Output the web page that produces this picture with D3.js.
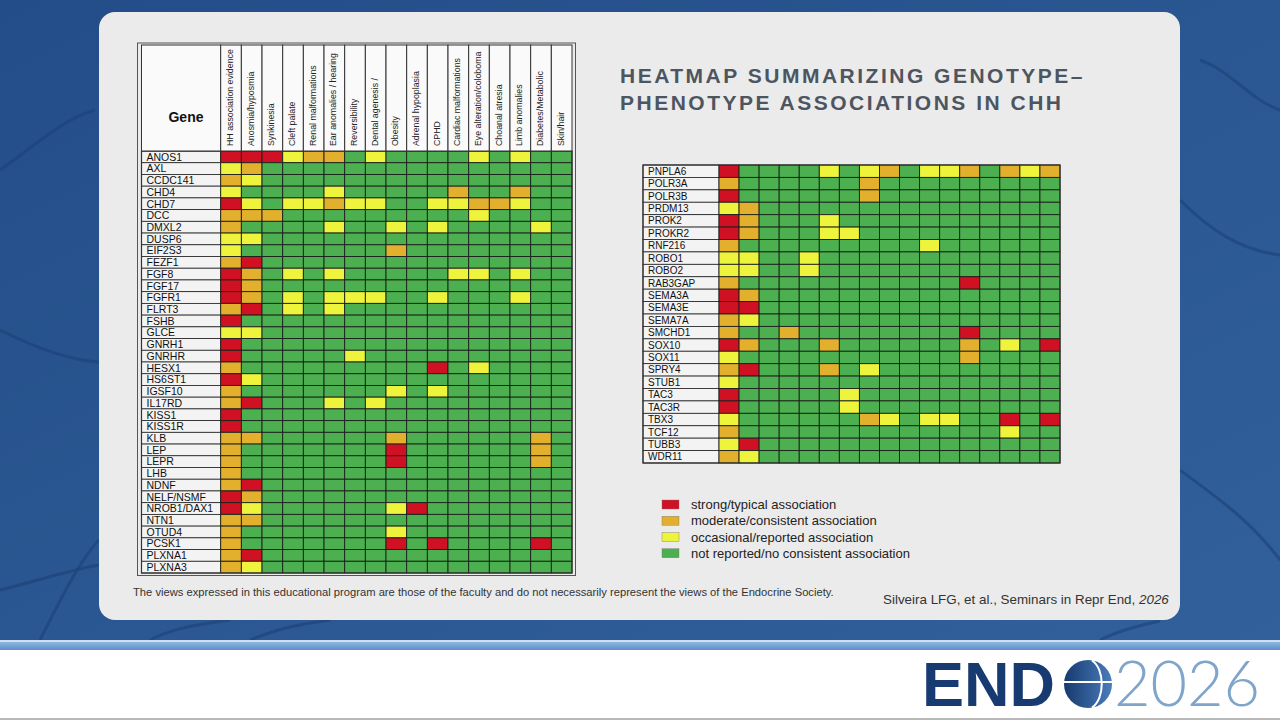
<!DOCTYPE html>
<html>
<head>
<meta charset="utf-8">
<script src="https://cdn.jsdelivr.net/npm/d3@7"></script>
<style>
  body { margin: 0; background: #fff; }
  svg { display: block; font-family: Arial, "Liberation Sans", sans-serif; }
</style>
</head>
<body>
<div id="chart"></div>
<script>
// phenotype columns (same for both tables)
var phenotypes = ["HH association evidence", "Anosmia/hyposmia", "Synkinesia", "Cleft palate",
    "Renal malformations", "Ear anomalies / hearing", "Reversibility", "Dental agenesis /",
    "Obesity", "Adrenal hypoplasia", "CPHD", "Cardiac malformations", "Eye alteration/coloboma",
    "Choanal atresia", "Limb anomalies", "Diabetes/Metabolic", "Skin/hair"];

// 0 = not reported, 1 = occasional, 2 = moderate, 3 = strong
var leftGenes = ["ANOS1", "AXL", "CCDC141", "CHD4", "CHD7", "DCC", "DMXL2", "DUSP6", "EIF2S3",
    "FEZF1", "FGF8", "FGF17", "FGFR1", "FLRT3", "FSHB", "GLCE", "GNRH1", "GNRHR", "HESX1",
    "HS6ST1", "IGSF10", "IL17RD", "KISS1", "KISS1R", "KLB", "LEP", "LEPR", "LHB", "NDNF",
    "NELF/NSMF", "NROB1/DAX1", "NTN1", "OTUD4", "PCSK1", "PLXNA1", "PLXNA3"];
var leftLevels = [
    "33312201000010100", "12000000000000000", "21000000000000000", "10000100000200200",
    "31011211001122100", "22200000000010000", "20000100101000010", "11000000000000000",
    "10000000200000000", "23000000000000000", "32010100000110100", "32000000000000000",
    "32010111001000100", "23010100000000000", "30000000000000000", "11000000000000000",
    "30000000000000000", "30000010000000000", "20000000003010000", "31000000000000000",
    "20000000101000000", "23000101000000000", "30000000000000000", "30000000000000000",
    "22000000200000020", "20000000300000020", "20000000300000020", "20000000000000000",
    "23000000000000000", "32000000000000000", "31000000130000000", "22000000000000000",
    "20000000100000000", "20000000303000030", "23000000000000000", "21000000000000000"];

var rightGenes = ["PNPLA6", "POLR3A", "POLR3B", "PRDM13", "PROK2", "PROKR2", "RNF216", "ROBO1",
    "ROBO2", "RAB3GAP", "SEMA3A", "SEMA3E", "SEMA7A", "SMCHD1", "SOX10", "SOX11", "SPRY4",
    "STUB1", "TAC3", "TAC3R", "TBX3", "TCF12", "TUBB3", "WDR11"];
var rightLevels = [
    "30000101201120212", "20000002000000000", "30000002000000000", "12000000000000000",
    "32000100000000000", "32000110000000000", "20000000001000000", "11001000000000000",
    "11001000000000000", "20000000000030000", "32000000000000000", "33000000000000000",
    "21000000000000000", "20020000000030000", "32000200000020103", "10000000000020000",
    "23000201000000000", "10000000000000000", "30000010000000000", "30000010000000000",
    "10000002101100303", "20000000000000100", "13000000000000000", "21000000000000000"];

var levelLabels = ["not reported/no consistent association", "occasional/reported association",
    "moderate/consistent association", "strong/typical association"];
var legendOrder = [3, 2, 1, 0];

var width = 1280, height = 720;
var colour = d3.scaleOrdinal()
    .domain([0, 1, 2, 3])
    .range(["#4cb050", "#eef33c", "#e2b02d", "#cf1123"]);

var svg = d3.select("#chart").append("svg")
    .attr("width", width)
    .attr("height", height);

// slide background
var defs = svg.append("defs");
var bg = defs.append("linearGradient").attr("id", "bg").attr("x1", 0).attr("y1", 0).attr("x2", 1).attr("y2", 1);
bg.append("stop").attr("offset", "0%").attr("stop-color", "#234d88");
bg.append("stop").attr("offset", "100%").attr("stop-color", "#31609a");
var stripe = defs.append("linearGradient").attr("id", "stripe").attr("x1", 0).attr("y1", 0).attr("x2", 0).attr("y2", 1);
stripe.append("stop").attr("offset", "0%").attr("stop-color", "#8fb7e0");
stripe.append("stop").attr("offset", "100%").attr("stop-color", "#5d8fc9");
var globe = defs.append("linearGradient").attr("id", "globe").attr("x1", 0).attr("y1", 0).attr("x2", 1).attr("y2", 0);
globe.append("stop").attr("offset", "0%").attr("stop-color", "#163a6f");
globe.append("stop").attr("offset", "100%").attr("stop-color", "#4a7dbb");

svg.append("rect").attr("width", width).attr("height", 641).attr("fill", "url(#bg)");

// faint nerve-like strokes in the background
var strokes = [
    "M0,170 C30,150 60,120 95,110", "M0,590 C40,580 70,570 99,565",
    "M40,640 C60,600 80,560 99,540", "M150,640 C170,630 190,625 230,620",
    "M1180,200 C1210,230 1240,250 1280,255", "M1180,470 C1220,500 1250,520 1280,560",
    "M250,640 C280,628 300,624 330,620", "M1100,640 C1120,630 1140,625 1160,621",
    "M1200,60 C1230,70 1250,100 1280,110", "M0,330 C40,350 70,360 99,362"
];
svg.append("g").selectAll("path").data(strokes).enter().append("path")
    .attr("d", function(d) { return d; })
    .attr("fill", "none").attr("stroke", "#1c4177").attr("stroke-width", 3).attr("opacity", 0.6);

svg.append("rect").attr("y", 640).attr("width", width).attr("height", 2).attr("fill", "#cfe0f2");
svg.append("rect").attr("y", 642).attr("width", width).attr("height", 8).attr("fill", "url(#stripe)");
svg.append("rect").attr("y", 650).attr("width", width).attr("height", 70).attr("fill", "#ffffff");
svg.append("rect").attr("y", 718).attr("width", width).attr("height", 2).attr("fill", "#b8b8b8");

// panel
svg.append("rect").attr("x", 99).attr("y", 12).attr("width", 1081).attr("height", 608)
    .attr("rx", 16).attr("fill", "#ebebeb");

function drawTable(genes, levels, x0, nameW, x1, y0, y1, fontSize) {
    var g = svg.append("g");
    var x = d3.scaleBand().domain(phenotypes).range([x0 + nameW, x1]);
    var y = d3.scaleBand().domain(genes).range([y0, y1]);

    var rows = g.selectAll(".row")
        .data(genes)
        .enter().append("g")
        .attr("class", "row")
        .attr("transform", function(d) { return "translate(0," + y(d) + ")"; });

    rows.append("rect")
        .attr("x", x0).attr("width", nameW).attr("height", y.bandwidth())
        .attr("fill", "#f3f3f3").attr("stroke", "#222").attr("stroke-width", 0.8);
    rows.append("text")
        .attr("x", x0 + 5).attr("y", y.bandwidth() / 2).attr("dy", "0.36em")
        .style("font-size", fontSize + "px").attr("fill", "#111")
        .text(function(d) { return d; });

    rows.selectAll(".cell")
        .data(function(d, i) {
            return phenotypes.map(function(p, j) { return { p: p, v: +levels[i][j] }; });
        })
        .enter().append("rect")
        .attr("class", "cell")
        .attr("x", function(d) { return x(d.p); })
        .attr("width", x.bandwidth()).attr("height", y.bandwidth())
        .attr("fill", function(d) { return colour(d.v); })
        .attr("stroke", "#1a1f1a").attr("stroke-width", 0.9);

    g.append("rect").attr("x", x0).attr("y", y0).attr("width", x1 - x0).attr("height", y1 - y0)
        .attr("fill", "none").attr("stroke", "#333").attr("stroke-width", 1.2);
    return x;
}

// left table with header
var lx = drawTable(leftGenes, leftLevels, 141.5, 79.2, 572, 151, 573, 10.5);
var head = svg.append("g");
head.append("rect").attr("x", 141.5).attr("y", 45).attr("width", 79.2).attr("height", 106)
    .attr("fill", "#fafafa").attr("stroke", "#333").attr("stroke-width", 1);
head.selectAll(".hcell").data(phenotypes).enter().append("rect")
    .attr("x", function(d) { return lx(d); }).attr("y", 45)
    .attr("width", lx.bandwidth()).attr("height", 106)
    .attr("fill", "#fafafa").attr("stroke", "#333").attr("stroke-width", 1);
head.selectAll(".hlab").data(phenotypes).enter().append("text")
    .attr("transform", function(d) { return "translate(" + (lx(d) + lx.bandwidth() / 2 - 1) + ",146) rotate(-90)"; })
    .attr("dy", "0.35em")
    .style("font-size", "8.8px").attr("fill", "#222")
    .text(function(d) { return d; });
head.append("text").attr("x", 186).attr("y", 122).attr("text-anchor", "middle")
    .style("font-size", "14px").style("font-weight", "bold").attr("fill", "#111").text("Gene");
svg.append("rect").attr("x", 137.5).attr("y", 43).attr("width", 438).attr("height", 532.5)
    .attr("fill", "none").attr("stroke", "#555").attr("stroke-width", 1);

// right table
drawTable(rightGenes, rightLevels, 643, 76, 1060, 165, 463, 10);

// title
var title = svg.append("text").attr("x", 620).attr("y", 83)
    .style("font-size", "21px").style("font-weight", "bold")
    .style("letter-spacing", "2.5px").attr("fill", "#4d5560");
title.append("tspan").attr("x", 620).text("HEATMAP SUMMARIZING GENOTYPE\u2013");
title.append("tspan").attr("x", 620).attr("y", 110).text("PHENOTYPE ASSOCIATIONS IN CHH");

// legend
var ly = d3.scaleBand().domain(legendOrder).range([500, 565]);
var legend = svg.append("g").selectAll("g").data(legendOrder).enter().append("g")
    .attr("transform", function(d) { return "translate(662," + ly(d) + ")"; });
legend.append("rect").attr("width", 17).attr("height", 9)
    .attr("fill", function(d) { return colour(d); })
    .attr("stroke", "#777").attr("stroke-width", 0.4);
legend.append("text").attr("x", 29).attr("y", 4.5).attr("dy", "0.36em")
    .style("font-size", "13px").attr("fill", "#222")
    .text(function(d) { return levelLabels[d]; });

// footer texts
svg.append("text").attr("x", 133).attr("y", 596).style("font-size", "11.2px").attr("fill", "#333")
    .text("The views expressed in this educational program are those of the faculty and do not necessarily represent the views of the Endocrine Society.");
var cite = svg.append("text").attr("x", 883).attr("y", 604).style("font-size", "13.4px").attr("fill", "#333");
cite.append("tspan").text("Silveira LFG, et al., Seminars in Repr End, ");
cite.append("tspan").style("font-style", "italic").text("2026");

// ENDO 2026 logo
var logo = svg.append("g");
logo.append("text").attr("x", 922).attr("y", 706)
    .style("font-size", "63px").style("font-weight", "bold").attr("fill", "#173a70").text("END");
logo.append("circle").attr("cx", 1088).attr("cy", 684).attr("r", 24).attr("fill", "url(#globe)");
logo.append("line").attr("x1", 1064).attr("x2", 1112).attr("y1", 682).attr("y2", 682)
    .attr("stroke", "#fff").attr("stroke-width", 2);
logo.append("path").attr("d", "M1092,660.5 C1105,669 1105,699 1092,707.5")
    .attr("fill", "none").attr("stroke", "#fff").attr("stroke-width", 2);
logo.append("text").attr("x", 1114).attr("y", 706)
    .style("font-family", "Lato, 'Open Sans', sans-serif").style("font-weight", "300")
    .style("font-size", "63px").attr("fill", "#7fa6ca").text("2026");
</script>
</body>
</html>
